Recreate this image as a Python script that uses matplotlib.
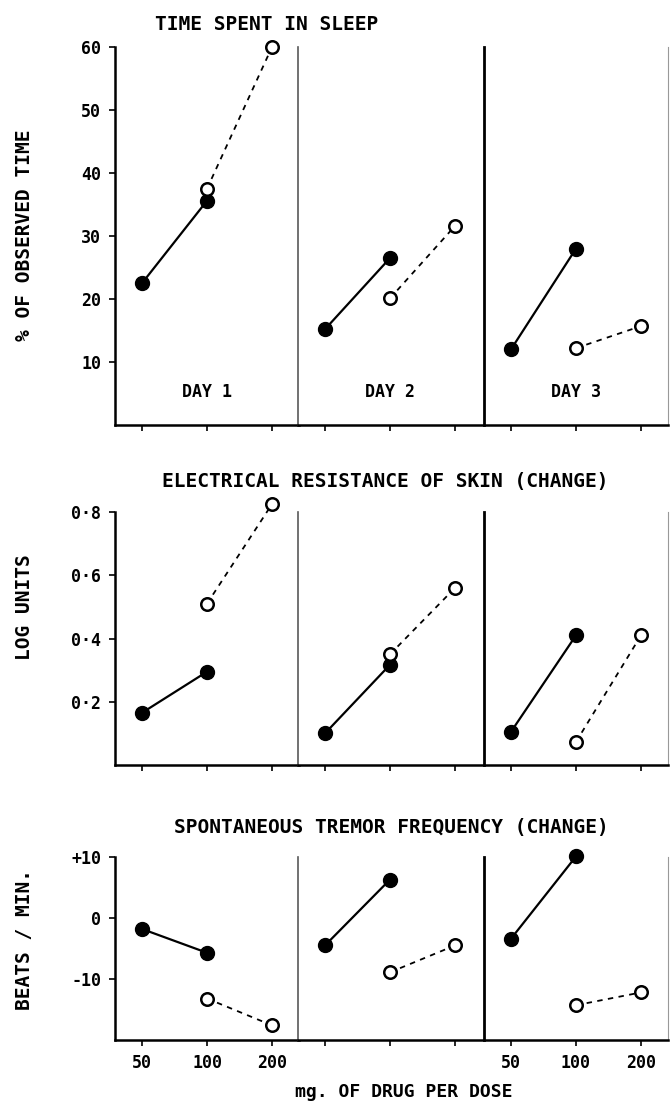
import matplotlib
matplotlib.use("Agg")
import matplotlib.pyplot as plt

# dose levels (mg per dose), plotted at equal spacing within each day
doses = ["50", "100", "200"]
days = ["DAY 1", "DAY 2", "DAY 3"]

# filled circles: doses 50 and 100 ; open circles: doses 100 and 200
sleep_filled = [[22.5, 35.6], [15.2, 26.5], [12.0, 28.0]]
sleep_open = [[37.5, 60.0], [20.1, 31.6], [12.2, 15.7]]

skin_filled = [[0.165, 0.295], [0.10, 0.317], [0.105, 0.41]]
skin_open = [[0.51, 0.825], [0.35, 0.56], [0.073, 0.41]]

tremor_filled = [[-1.8, -5.7], [-4.5, 6.3], [-3.4, 10.1]]
tremor_open = [[-13.2, -17.6], [-8.9, -4.5], [-14.3, -12.2]]

titles = ["TIME SPENT IN SLEEP",
          "ELECTRICAL RESISTANCE OF SKIN (CHANGE)",
          "SPONTANEOUS TREMOR FREQUENCY (CHANGE)"]
ylabels = ["% OF OBSERVED TIME", "LOG UNITS", "BEATS / MIN."]
yticks = [[10, 20, 30, 40, 50, 60], [0.2, 0.4, 0.6, 0.8], [-10, 0, 10]]
yticklabels = [["10", "20", "30", "40", "50", "60"],
               ["0·2", "0·4", "0·6", "0·8"],
               ["-10", "0", "+10"]]
ylims = [(0, 60), (0, 0.8), (-20, 10)]
xlabel = "mg. OF DRUG PER DOSE"

FONT = dict(family="DejaVu Sans Mono", weight="bold")

fig = plt.figure(figsize=(6.71, 11.02), dpi=100)
W, H = 671.0, 1102.0

# row geometry in pixels: (top, bottom)
rows = [(47, 425), (512, 765), (857, 1040)]
lefts = [115, 298, 484]
pw = 184
title_pos = [(267, 25), (385, 482), (391, 828)]
ylabel_y = [235, 607, 940]

data = [(sleep_filled, sleep_open), (skin_filled, skin_open),
        (tremor_filled, tremor_open)]

for r in range(3):
    top, bot = rows[r]
    filled, opened = data[r]
    for d in range(3):
        ax = fig.add_axes([lefts[d] / W, 1 - bot / H, pw / W, (bot - top) / H])
        ax.set_xlim(-0.415, 2.415)
        ax.set_ylim(*ylims[r])
        ax.plot([0, 1], filled[d], "-", color="black", lw=1.6,
                marker="o", ms=10, mfc="black", mec="black", clip_on=False)
        ax.plot([1, 2], opened[d], "--", color="black", lw=1.3, dashes=(3, 3),
                marker="o", ms=9, mfc="white", mec="black", mew=1.8, clip_on=False)
        ax.spines["top"].set_visible(False)
        ax.spines["bottom"].set_linewidth(1.8)
        if d == 0:
            ax.spines["left"].set_linewidth(1.8)
        elif d == 1:
            ax.spines["left"].set_linewidth(1.2)
            ax.spines["left"].set_color("0.35")
        else:
            ax.spines["left"].set_linewidth(2.0)
        if d == 2:
            ax.spines["right"].set_linewidth(0.8)
            ax.spines["right"].set_color("0.6")
        else:
            ax.spines["right"].set_visible(False)
        ax.set_xticks([0, 1, 2])
        if r == 2 and d != 1:
            ax.set_xticklabels(doses, fontsize=12, **FONT)
        else:
            ax.set_xticklabels([])
        ax.tick_params(axis="x", direction="out", length=4, width=1.2, pad=6)
        if d == 0:
            ax.set_yticks(yticks[r])
            ax.set_yticklabels(yticklabels[r], fontsize=12, **FONT)
            ax.tick_params(axis="y", direction="out", length=4, width=1.2, pad=6)
        else:
            ax.set_yticks([])
        if r == 0:
            ax.text(1, 5.3, days[d], ha="center", va="center", fontsize=12, **FONT)

    tx, ty = title_pos[r]
    fig.text(tx / W, 1 - ty / H, titles[r], ha="center", va="center",
             fontsize=14, **FONT)
    fig.text(25 / W, 1 - ylabel_y[r] / H, ylabels[r], ha="center", va="center",
             rotation=90, fontsize=14, **FONT)

fig.text(404 / W, 1 - 1092 / H, xlabel, ha="center", va="center",
         fontsize=13, **FONT)

fig.savefig("out.png", dpi=100, facecolor="white")
